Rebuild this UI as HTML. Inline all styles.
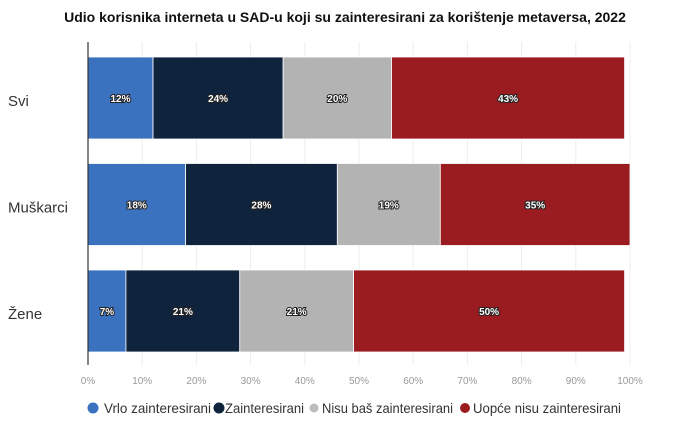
<!DOCTYPE html>
<html><head><meta charset="utf-8"><style>
body{margin:0;background:#fff;width:689px;height:422px;overflow:hidden;font-family:"Liberation Sans",sans-serif}
</style></head><body>
<svg id="c" width="689" height="422">
<text x="345" y="22" text-anchor="middle" font-size="14" font-weight="bold" fill="#111">Udio korisnika interneta u SAD-u koji su zainteresirani za korištenje metaversa, 2022</text>
<g id="grid"></g><g id="bars"></g><g id="axis"></g>
<g font-size="14" fill="#333">
<circle cx="93" cy="408" r="5.5" fill="#3a72c0"/><text x="104" y="413" textLength="107" lengthAdjust="spacingAndGlyphs">Vrlo zainteresirani</text>
<circle cx="219" cy="408" r="5.5" fill="#0f233d"/><text x="225" y="413" textLength="79" lengthAdjust="spacingAndGlyphs">Zainteresirani</text>
<circle cx="314" cy="408" r="4.5" fill="#bdbdbd"/><text x="322" y="413" textLength="131" lengthAdjust="spacingAndGlyphs">Nisu baš zainteresirani</text>
<circle cx="465" cy="408" r="5" fill="#9b1c20"/><text x="473" y="413" textLength="148" lengthAdjust="spacingAndGlyphs">Uopće nisu zainteresirani</text>
</g>
</svg>
<script>
const categories=["Svi","Muškarci","Žene"];
const vrlo=[12,18,7];
const zainteresirani=[24,28,21];
const nisuBas=[20,19,21];
const uopceNisu=[43,35,50];
const ticks=[0,10,20,30,40,50,60,70,80,90,100];
const series=[vrlo,zainteresirani,nisuBas,uopceNisu];
const colors=["#3a72c0","#0f233d","#b3b3b3","#9b1c20"];
const sNames=["vrlo","zainteresirani","nisu-bas","uopce-nisu"];
const NS="http://www.w3.org/2000/svg";
const x=v=>88+v*5.42;
const yTop=i=>57+i*106.5, bh=82;
function mk(t,a,p){const e=document.createElementNS(NS,t);for(const k in a)e.setAttribute(k,a[k]);p.appendChild(e);return e;}
const grid=document.getElementById('grid'),bars=document.getElementById('bars'),axis=document.getElementById('axis');
ticks.forEach(t=>{
 const l=mk('line',{x1:x(t),x2:x(t),y1:42,y2:365,stroke:'#ececec','stroke-width':1},grid);
 
 
 const tx=mk('text',{x:x(t),y:384,'text-anchor':'middle','font-size':10,fill:'#999'},axis);
 tx.textContent=t+'%';
 
 
});
const ax=mk('line',{x1:88,x2:88,y1:42,y2:365,stroke:'#333','stroke-width':1.2},axis);


categories.forEach((c,i)=>{
 const lb=mk('text',{x:8,y:yTop(i)+bh/2+8,'font-size':15,fill:'#333'},axis);
 lb.textContent=c;
 
 
 let acc=0;
 series.forEach((s,j)=>{
  const v=s[i];
  const r=mk('rect',{x:x(acc),y:yTop(i),width:x(acc+v)-x(acc),height:bh,fill:colors[j],stroke:'#fff','stroke-width':0.8},bars);
  
  
  const t=mk('text',{x:(x(acc)+x(acc+v))/2,y:yTop(i)+bh/2+4,'text-anchor':'middle','font-size':10,'font-weight':'bold',fill:'#fff',stroke:'#222','stroke-width':2,'paint-order':'stroke'},bars);
  t.textContent=v+'%';
  
  
  acc+=v;
 });
});
</script>
</body></html>
